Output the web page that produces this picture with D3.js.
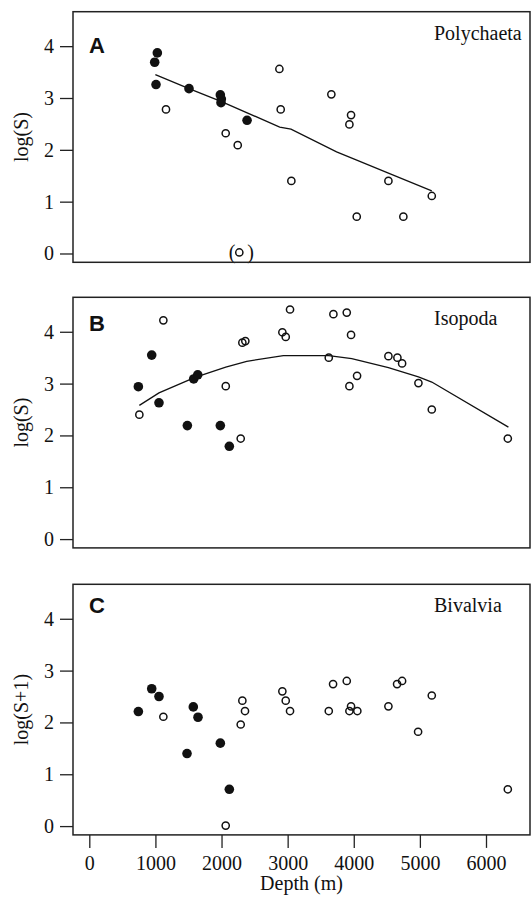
<!DOCTYPE html>
<html>
<head>
<meta charset="utf-8">
<script src="https://cdn.jsdelivr.net/npm/d3@7"></script>
<style>
    body { margin: 0; background: #fff; }
    text { font-family: "Liberation Serif", "Times New Roman", serif; fill: #111; }
    .letter { font-family: "Liberation Sans", Arial, sans-serif; font-weight: bold; }
</style>
</head>
<body>
<div id="chart"></div>
<script>
// depth (m), value
var polyFilled = [[1029, 3.87], [989, 3.69], [1009, 3.26], [1508, 3.18], [1982, 3.06], [1997, 2.98],
    [1992, 2.91], [2386, 2.57]];
var polyOpen = [[1160, 2.78], [2063, 2.32], [2245, 2.09], [2875, 3.56], [2895, 2.78], [3056, 1.40],
    [3661, 3.07], [3959, 2.67], [3934, 2.49], [4045, 0.71], [4524, 1.40], [4750, 0.71], [5180, 1.11]];
var polyBracketed = [[2269, 0.02]];
var polyCurve = [[999, 3.45], [1508, 3.18], [2000, 2.93], [2880, 2.44], [3050, 2.40], [3740, 1.96],
    [4045, 1.80], [4524, 1.55], [5180, 1.21]];

var isoFilled = [[944, 3.55], [742, 2.94], [1054, 2.63], [1483, 2.19], [1982, 2.19], [2118, 1.79],
    [1579, 3.09], [1640, 3.17]];
var isoOpen = [[757, 2.40], [1120, 4.22], [2064, 2.95], [2290, 1.94], [2315, 3.79], [2360, 3.82],
    [2920, 3.99], [2971, 3.90], [3036, 4.43], [3622, 3.50], [3692, 4.34], [3894, 4.37], [3959, 3.94],
    [3934, 2.95], [4050, 3.15], [4524, 3.53], [4660, 3.50], [4731, 3.39], [4978, 3.01], [5180, 2.50],
    [6330, 1.94]];
var isoCurve = [[757, 2.58], [1054, 2.82], [1599, 3.12], [2064, 3.32], [2381, 3.43], [2935, 3.54],
    [3622, 3.54], [3970, 3.48], [4524, 3.31], [4978, 3.13], [5180, 3.03], [6339, 2.16]];

var bivFilled = [[742, 2.21], [944, 2.65], [1054, 2.50], [1478, 1.40], [1573, 2.30], [1644, 2.10],
    [1982, 1.60], [2118, 0.71]];
var bivOpen = [[1120, 2.11], [2063, 0.01], [2290, 1.96], [2315, 2.42], [2355, 2.22], [2920, 2.60],
    [2971, 2.42], [3036, 2.22], [3622, 2.22], [3687, 2.74], [3894, 2.80], [3959, 2.31], [3934, 2.22],
    [4054, 2.22], [4524, 2.31], [4655, 2.74], [4731, 2.80], [4973, 1.82], [5180, 2.52], [6330, 0.71]];

var xTicks = [0, 1000, 2000, 3000, 4000, 5000, 6000];
var yTicks = [0, 1, 2, 3, 4];
var panelLetters = ["A", "B", "C"];
var panelNames = ["Polychaeta", "Isopoda", "Bivalvia"];
var yLabels = ["log(S)", "log(S)", "log(S+1)"];
var xLabel = "Depth (m)";

var chart = (function () {
    var svg = d3.select("#chart").append("svg")
            .attr("width", 532)
            .attr("height", 897),
        box = {left: 73, right: 530, height: 250.6},
        tops = [11.7, 297.3, 584.3],
        letterOffset = [41.6, 33.2, 28.7];

    var x = d3.scaleLinear().domain([0, 6000]).range([89.3, 486]);

    var panels = [
        {filled: polyFilled, open: polyOpen, curve: polyCurve},
        {filled: isoFilled, open: isoOpen, curve: isoCurve},
        {filled: bivFilled, open: bivOpen, curve: null}
    ];

    function drawPanel(p, i) {
        var top = tops[i],
            bottom = top + box.height;
        var y = d3.scaleLinear().domain([-0.17, 4.665]).range([bottom, top]);
        var g = svg.append("g").attr("class", "panel");

        // y axis
        var yAxis = d3.axisLeft(y).tickValues(yTicks).tickFormat(d3.format("d"))
            .tickSize(13).tickPadding(6);
        var ya = g.append("g")
            .attr("transform", "translate(" + box.left + ",0)")
            .call(yAxis);
        ya.select(".domain").remove();
        ya.selectAll("line").attr("stroke", "#222").attr("stroke-width", 1.3);
        ya.selectAll("text")
            .style("font-family", '"Liberation Serif", serif')
            .style("font-size", "20px")
            .attr("fill", "#111");

        g.append("text")
            .attr("transform", "translate(28," + ((top + bottom) / 2) + ") rotate(-90)")
            .attr("text-anchor", "middle")
            .style("font-size", "20px")
            .text(yLabels[i]);

        // fitted curve
        if (p.curve) {
            var line = d3.line()
                .x(function (d) { return x(d[0]); })
                .y(function (d) { return y(d[1]); });
            g.append("path")
                .attr("d", line(p.curve))
                .attr("fill", "none")
                .attr("stroke", "#111")
                .attr("stroke-width", 1.3);
        }

        // points
        g.selectAll("circle.open")
            .data(p.open)
            .enter().append("circle")
            .attr("class", "open")
            .attr("cx", function (d) { return x(d[0]); })
            .attr("cy", function (d) { return y(d[1]); })
            .attr("r", 3.6)
            .attr("fill", "none")
            .attr("stroke", "#111")
            .attr("stroke-width", 1.5);

        g.selectAll("circle.filled")
            .data(p.filled)
            .enter().append("circle")
            .attr("class", "filled")
            .attr("cx", function (d) { return x(d[0]); })
            .attr("cy", function (d) { return y(d[1]); })
            .attr("r", 4.8)
            .attr("fill", "#111");

        if (i === 0) {
            // outlier shown in brackets
            var b = g.selectAll("g.bracketed")
                .data(polyBracketed)
                .enter().append("g")
                .attr("class", "bracketed")
                .attr("transform", function (d) {
                    return "translate(" + x(d[0]) + "," + y(d[1]) + ")";
                });
            b.append("circle")
                .attr("r", 3.6)
                .attr("fill", "none")
                .attr("stroke", "#111")
                .attr("stroke-width", 1.5);
            b.append("text").attr("x", -4).attr("y", 7).attr("text-anchor", "end")
                .style("font-size", "20px").text("(");
            b.append("text").attr("x", 8).attr("y", 7).attr("text-anchor", "start")
                .style("font-size", "20px").text(")");
        }

        // frame
        g.append("rect")
            .attr("x", box.left)
            .attr("y", top)
            .attr("width", box.right - box.left)
            .attr("height", box.height)
            .attr("fill", "none")
            .attr("stroke", "#222")
            .attr("stroke-width", 1.5);

        g.append("text")
            .attr("class", "letter")
            .attr("x", 89)
            .attr("y", top + letterOffset[i])
            .style("font-size", "22px")
            .text(panelLetters[i]);

        g.append("text")
            .attr("x", 434)
            .attr("y", top + 28)
            .style("font-size", "20px")
            .text(panelNames[i]);

        if (i === 2) {
            var xAxis = d3.axisBottom(x).tickValues(xTicks).tickFormat(d3.format("d"))
                .tickSize(13).tickPadding(8);
            var xa = g.append("g")
                .attr("transform", "translate(0," + bottom + ")")
                .call(xAxis);
            xa.select(".domain").remove();
            xa.selectAll("line").attr("stroke", "#222").attr("stroke-width", 1.3);
            xa.selectAll("text")
                .style("font-family", '"Liberation Serif", serif')
                .style("font-size", "20px")
                .attr("fill", "#111");

            g.append("text")
                .attr("x", (box.left + box.right) / 2)
                .attr("y", 890)
                .attr("text-anchor", "middle")
                .style("font-size", "20px")
                .text(xLabel);
        }
    }

    panels.forEach(drawPanel);
    return svg;
})();
</script>
</body>
</html>
